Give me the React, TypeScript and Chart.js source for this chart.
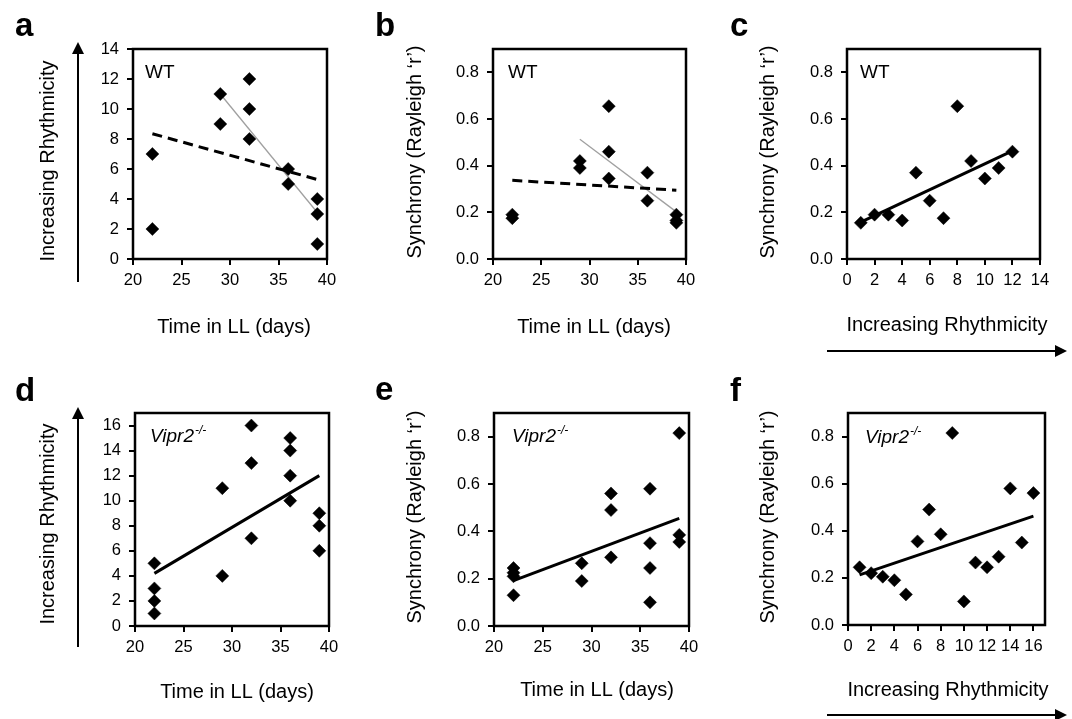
import React, { useEffect, useRef } from "react";
import { Chart, registerables } from "chart.js";

Chart.register(...registerables);

const FONT = "'Liberation Sans', Arial, Helvetica, sans-serif";

// ---------- DATA ----------
// WT
const wtDays = [22, 22, 29, 29, 32, 32, 32, 36, 36, 39, 39, 39];
const wtRhythm = [7, 2, 11, 9, 12, 10, 8, 6, 5, 4, 3, 1];
const wtSync = [0.19, 0.175, 0.42, 0.39, 0.655, 0.46, 0.345, 0.37, 0.25, 0.19, 0.165, 0.155];
const wtRank = [1, 2, 3, 4, 5, 6, 7, 8, 9, 10, 11, 12];
const wtRankSync = [0.155, 0.19, 0.19, 0.165, 0.37, 0.25, 0.175, 0.655, 0.42, 0.345, 0.39, 0.46];

// Vipr2-/-
const koDays = [22, 22, 22, 22, 29, 29, 32, 32, 32, 36, 36, 36, 36, 39, 39, 39];
const koRhythm = [5, 3, 2, 1, 11, 4, 16, 13, 7, 15, 14, 12, 10, 9, 8, 6];
const koSync = [0.245, 0.225, 0.21, 0.13, 0.265, 0.19, 0.56, 0.49, 0.29, 0.58, 0.35, 0.245, 0.1, 0.815, 0.385, 0.355];
const koRank = [1, 2, 3, 4, 5, 6, 7, 8, 9, 10, 11, 12, 13, 14, 15, 16];
const koRankSync = [0.245, 0.22, 0.205, 0.19, 0.13, 0.355, 0.49, 0.385, 0.815, 0.1, 0.265, 0.245, 0.29, 0.58, 0.35, 0.56];

// Trend lines [x0, x1], [y0, y1]
const fitA_allX = [22, 39];
const fitA_allY = [8.35, 5.3];
const fitA_lateX = [29, 39];
const fitA_lateY = [11, 3.1];
const fitB_allX = [22, 39];
const fitB_allY = [0.337, 0.295];
const fitB_lateX = [29, 39];
const fitB_lateY = [0.513, 0.202];
const fitC_X = [1, 12];
const fitC_Y = [0.158, 0.463];
const fitD_X = [22, 39];
const fitD_Y = [4.2, 12];
const fitE_X = [22, 39];
const fitE_Y = [0.192, 0.455];
const fitF_X = [1, 16];
const fitF_Y = [0.213, 0.462];

// Tick labels
const dayTicks = [20, 25, 30, 35, 40];
const syncTicks = [0, 0.2, 0.4, 0.6, 0.8];
const wtRhythmTicks = [0, 2, 4, 6, 8, 10, 12, 14];
const koRhythmTicks = [0, 2, 4, 6, 8, 10, 12, 14, 16];

// Text
const TXT_DAYS = "Time in LL (days)";
const TXT_RHYTHM = "Increasing Rhythmicity";
const TXT_SYNC = "Synchrony (Rayleigh \u2018r\u2019)";

// ---------- PANEL SPECS ----------
type Line = { xs: number[]; ys: number[]; kind: "dash" | "gray" | "solid" };
type Spec = {
  letter: string;
  left: number; top: number; width: number; height: number;
  area: { l: number; r: number; t: number; b: number }; // page coords
  xMin: number; xMax: number; xTicks: number[];
  yMin: number; yMax: number; yTicks: number[]; yDec: number;
  xs: number[]; ys: number[];
  lines: Line[];
  geno: "WT" | "KO";
  genoPos: [number, number];
  letterPos: [number, number];
  yTitle: string; yTitlePos: [number, number];
  xTitle: string; xTitlePos: [number, number];
  vArrow?: [number, number, number]; // x, tipY, tailY
  hArrow?: [number, number, number]; // y, tailX, tipX
};

const specs: Spec[] = [
  {
    letter: "a", left: 0, top: 0, width: 360, height: 360,
    area: { l: 133, r: 327, t: 49, b: 259 },
    xMin: 20, xMax: 40, xTicks: dayTicks,
    yMin: 0, yMax: 14, yTicks: wtRhythmTicks, yDec: 0,
    xs: wtDays, ys: wtRhythm,
    lines: [
      { xs: fitA_allX, ys: fitA_allY, kind: "dash" },
      { xs: fitA_lateX, ys: fitA_lateY, kind: "gray" },
    ],
    geno: "WT", genoPos: [145, 78], letterPos: [15, 36],
    yTitle: TXT_RHYTHM, yTitlePos: [48, 161],
    xTitle: TXT_DAYS, xTitlePos: [234, 327],
    vArrow: [78, 42, 282],
  },
  {
    letter: "b", left: 360, top: 0, width: 355, height: 360,
    area: { l: 493, r: 686, t: 49, b: 259 },
    xMin: 20, xMax: 40, xTicks: dayTicks,
    yMin: 0, yMax: 0.9, yTicks: syncTicks, yDec: 1,
    xs: wtDays, ys: wtSync,
    lines: [
      { xs: fitB_allX, ys: fitB_allY, kind: "dash" },
      { xs: fitB_lateX, ys: fitB_lateY, kind: "gray" },
    ],
    geno: "WT", genoPos: [508, 78], letterPos: [375, 36],
    yTitle: TXT_SYNC, yTitlePos: [415, 152],
    xTitle: TXT_DAYS, xTitlePos: [594, 327],
  },
  {
    letter: "c", left: 715, top: 0, width: 357, height: 360,
    area: { l: 847, r: 1040, t: 49, b: 259 },
    xMin: 0, xMax: 14, xTicks: wtRhythmTicks,
    yMin: 0, yMax: 0.9, yTicks: syncTicks, yDec: 1,
    xs: wtRank, ys: wtRankSync,
    lines: [{ xs: fitC_X, ys: fitC_Y, kind: "solid" }],
    geno: "WT", genoPos: [860, 78], letterPos: [730, 36],
    yTitle: TXT_SYNC, yTitlePos: [768, 152],
    xTitle: TXT_RHYTHM, xTitlePos: [947, 325],
    hArrow: [351, 827, 1067],
  },
  {
    letter: "d", left: 0, top: 360, width: 360, height: 359,
    area: { l: 135, r: 329, t: 413, b: 626 },
    xMin: 20, xMax: 40, xTicks: dayTicks,
    yMin: 0, yMax: 17, yTicks: koRhythmTicks, yDec: 0,
    xs: koDays, ys: koRhythm,
    lines: [{ xs: fitD_X, ys: fitD_Y, kind: "solid" }],
    geno: "KO", genoPos: [150, 442], letterPos: [15, 401],
    yTitle: TXT_RHYTHM, yTitlePos: [48, 524],
    xTitle: TXT_DAYS, xTitlePos: [237, 692],
    vArrow: [78, 407, 647],
  },
  {
    letter: "e", left: 360, top: 360, width: 355, height: 359,
    area: { l: 494, r: 689, t: 413, b: 626 },
    xMin: 20, xMax: 40, xTicks: dayTicks,
    yMin: 0, yMax: 0.9, yTicks: syncTicks, yDec: 1,
    xs: koDays, ys: koSync,
    lines: [{ xs: fitE_X, ys: fitE_Y, kind: "solid" }],
    geno: "KO", genoPos: [512, 442], letterPos: [375, 400],
    yTitle: TXT_SYNC, yTitlePos: [415, 517],
    xTitle: TXT_DAYS, xTitlePos: [597, 690],
  },
  {
    letter: "f", left: 715, top: 360, width: 357, height: 359,
    area: { l: 848, r: 1045, t: 413, b: 625 },
    xMin: 0, xMax: 17, xTicks: koRhythmTicks,
    yMin: 0, yMax: 0.9, yTicks: syncTicks, yDec: 1,
    xs: koRank, ys: koRankSync,
    lines: [{ xs: fitF_X, ys: fitF_Y, kind: "solid" }],
    geno: "KO", genoPos: [865, 443], letterPos: [730, 401],
    yTitle: TXT_SYNC, yTitlePos: [768, 517],
    xTitle: TXT_RHYTHM, xTitlePos: [948, 690],
    hArrow: [715, 827, 1067],
  },
];

const X_AXIS_H = 40;

function makeDecor(s: Spec) {
  return {
    id: "decor_" + s.letter,
    afterDraw(chart: any) {
      const ctx: CanvasRenderingContext2D = chart.ctx;
      const ox = s.left;
      const oy = s.top;
      const { left, right, top, bottom } = chart.chartArea;
      ctx.save();
      ctx.strokeStyle = "#000";
      ctx.fillStyle = "#000";
      ctx.lineWidth = 2.5;
      ctx.strokeRect(left, top, right - left, bottom - top);

      // panel letter
      ctx.font = `bold 33px ${FONT}`;
      ctx.textAlign = "left";
      ctx.textBaseline = "alphabetic";
      ctx.fillText(s.letter, s.letterPos[0] - ox, s.letterPos[1] - oy);

      // genotype
      const gx = s.genoPos[0] - ox;
      const gy = s.genoPos[1] - oy;
      if (s.geno === "WT") {
        ctx.font = `19px ${FONT}`;
        ctx.fillText("WT", gx, gy);
      } else {
        ctx.font = `italic 19px ${FONT}`;
        ctx.fillText("Vipr2", gx, gy);
        const w = ctx.measureText("Vipr2").width;
        ctx.font = `italic 12px ${FONT}`;
        ctx.fillText("-/-", gx + w + 1, gy - 8);
      }

      // titles
      ctx.font = `20px ${FONT}`;
      ctx.textAlign = "center";
      ctx.textBaseline = "middle";
      ctx.fillText(s.xTitle, s.xTitlePos[0] - ox, s.xTitlePos[1] - oy);
      ctx.save();
      ctx.translate(s.yTitlePos[0] - ox, s.yTitlePos[1] - oy);
      ctx.rotate(-Math.PI / 2);
      ctx.fillText(s.yTitle, 0, 0);
      ctx.restore();

      // arrows
      ctx.lineWidth = 2;
      if (s.vArrow) {
        const [ax, tip, tail] = s.vArrow;
        const x = ax - ox;
        ctx.beginPath();
        ctx.moveTo(x, tail - oy);
        ctx.lineTo(x, tip - oy + 8);
        ctx.stroke();
        ctx.beginPath();
        ctx.moveTo(x, tip - oy);
        ctx.lineTo(x - 6, tip - oy + 12);
        ctx.lineTo(x + 6, tip - oy + 12);
        ctx.closePath();
        ctx.fill();
      }
      if (s.hArrow) {
        const [ay, tail, tip] = s.hArrow;
        const y = ay - oy;
        ctx.beginPath();
        ctx.moveTo(tail - ox, y);
        ctx.lineTo(tip - ox - 8, y);
        ctx.stroke();
        ctx.beginPath();
        ctx.moveTo(tip - ox, y);
        ctx.lineTo(tip - ox - 12, y - 6);
        ctx.lineTo(tip - ox - 12, y + 6);
        ctx.closePath();
        ctx.fill();
      }
      ctx.restore();
    },
  };
}

function Panel({ s }: { s: Spec }) {
  const ref = useRef<HTMLCanvasElement>(null);
  useEffect(() => {
    if (!ref.current) return;
    const lineDatasets = s.lines.map((ln) => ({
      type: "line" as const,
      data: ln.xs.map((x, i) => ({ x, y: ln.ys[i] })),
      borderColor: ln.kind === "gray" ? "#a0a0a0" : "#000",
      borderWidth: ln.kind === "gray" ? 1.3 : 3,
      borderDash: ln.kind === "dash" ? [10, 6] : [],
      pointRadius: 0,
      fill: false,
      tension: 0,
    }));
    const chart = new Chart(ref.current, {
      type: "scatter",
      data: {
        datasets: [
          {
            type: "scatter" as const,
            data: s.xs.map((x, i) => ({ x, y: s.ys[i] })),
            pointStyle: "rectRot",
            pointRadius: 6.5,
            backgroundColor: "#000",
            borderColor: "#000",
            borderWidth: 0.5,
          },
          ...lineDatasets,
        ] as any,
      },
      options: {
        animation: false,
        responsive: false,
        events: [],
        layout: {
          padding: {
            left: 0,
            top: s.area.t - s.top,
            right: s.left + s.width - s.area.r,
            bottom: s.top + s.height - s.area.b - X_AXIS_H,
          },
        },
        plugins: {
          legend: { display: false },
          tooltip: { enabled: false },
        },
        scales: {
          x: {
            type: "linear",
            min: s.xMin,
            max: s.xMax,
            afterBuildTicks: (sc: any) => {
              sc.ticks = s.xTicks.map((v) => ({ value: v }));
            },
            afterFit: (sc: any) => {
              sc.height = X_AXIS_H;
            },
            grid: {
              display: true,
              drawOnChartArea: false,
              drawTicks: true,
              tickLength: 6,
              color: "#000",
              lineWidth: 2,
            },
            border: { display: false },
            ticks: {
              color: "#000",
              font: { family: FONT, size: 16.5 },
              padding: 6,
              maxRotation: 0,
              autoSkip: false,
              callback: (v: any) => String(v),
            },
          },
          y: {
            type: "linear",
            min: s.yMin,
            max: s.yMax,
            afterBuildTicks: (sc: any) => {
              sc.ticks = s.yTicks.map((v) => ({ value: v }));
            },
            afterFit: (sc: any) => {
              sc.width = s.area.l - s.left;
            },
            grid: {
              display: true,
              drawOnChartArea: false,
              drawTicks: true,
              tickLength: 6,
              color: "#000",
              lineWidth: 2,
            },
            border: { display: false },
            ticks: {
              color: "#000",
              font: { family: FONT, size: 16.5 },
              padding: 8,
              autoSkip: false,
              callback: (v: any) => Number(v).toFixed(s.yDec),
            },
          },
        },
      } as any,
      plugins: [makeDecor(s)],
    });
    return () => chart.destroy();
  }, [s]);
  return (
    <div style={{ position: "absolute", left: s.left, top: s.top, width: s.width, height: s.height }}>
      <canvas ref={ref} width={s.width} height={s.height} style={{ display: "block", width: s.width, height: s.height }} />
    </div>
  );
}

export default function App() {
  return (
    <div style={{ position: "absolute", left: 0, top: 0, width: 1072, height: 719, background: "#fff", overflow: "hidden" }}>
      {specs.map((s) => (
        <Panel key={s.letter} s={s} />
      ))}
    </div>
  );
}
